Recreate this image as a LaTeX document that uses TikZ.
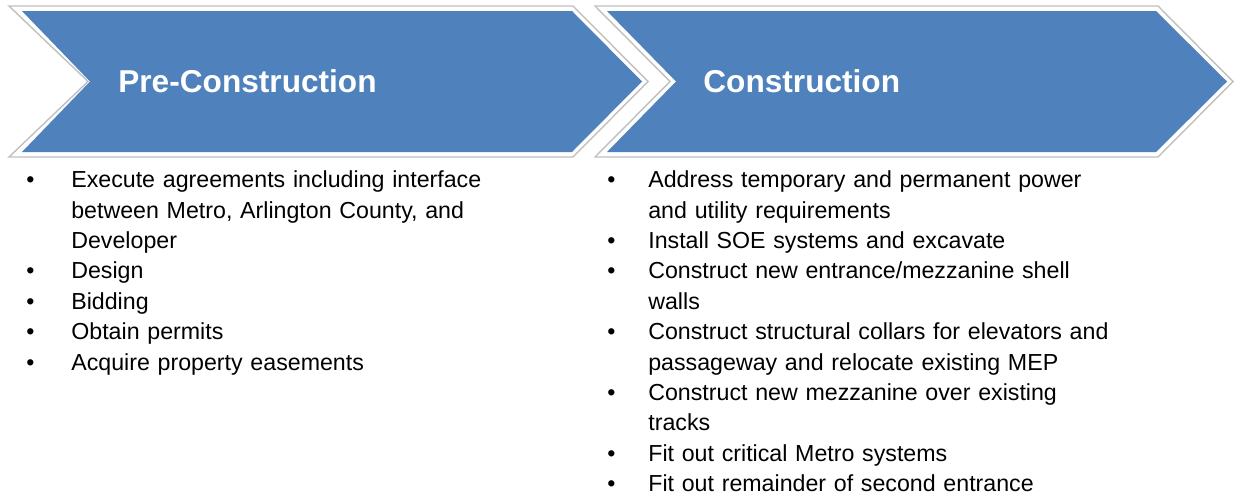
\documentclass[tikz,border=0pt]{standalone}
\usepackage{fontspec}
\setmainfont{Liberation Sans}
\definecolor{chevblue}{RGB}{79,129,189}
\definecolor{chevrim}{RGB}{192,192,192}
\newlength{\bulind}
\newcommand{\bitem}{\par\noindent\hangindent=\bulind\hangafter=1\makebox[\bulind][l]{\textbullet}}

\begin{document}
\begin{tikzpicture}[x=0.02cm,y=-0.02cm]
  \useasboundingbox (0,0) rectangle (1243,497);

  \coordinate (PreHead) at (118,92);
  \coordinate (ConHead) at (703,92);
  \coordinate (PreList) at (26,157);
  \coordinate (ConList) at (607,157);

  \tikzstyle{rim}=[draw=chevrim,fill=white,line width=0.8pt];
  \tikzstyle{body}=[fill=chevblue];
  \tikzstyle{head}=[text=white,inner sep=0pt,anchor=base west,
                    font=\fontsize{18pt}{21pt}\selectfont\bfseries];
  \tikzstyle{list}=[inner sep=0pt,anchor=north west,text width=11cm,
                    align=left,font=\fontsize{13.2pt}{17.3pt}\selectfont];

  % chevrons
  \path[rim] (9,6) -- (573,6) -- (648,81.5) -- (573,157) -- (9,157)
             -- (88,81.5) -- cycle;
  \path[body] (22,11) -- (572,11) -- (642,81.5) -- (572,152) -- (22,152)
             -- (90,81.5) -- cycle;
  \path[rim] (595,6) -- (1158,6) -- (1233,81.5) -- (1158,157) -- (595,157)
             -- (670,81.5) -- cycle;
  \path[body] (607,11) -- (1156,11) -- (1227,81.5) -- (1156,152)
             -- (607,152) -- (676,81.5) -- cycle;

  \node[head] (PreTitle) at (PreHead) {Pre-Construction};
  \node[head] (ConTitle) at (ConHead) {Construction};

  \node[list] (PreItems) at (PreList) {\setlength{\bulind}{0.9cm}%
    \bitem Execute agreements including interface\newline
           between Metro, Arlington County, and\newline Developer
    \bitem Design
    \bitem Bidding
    \bitem Obtain permits
    \bitem Acquire property easements};

  \node[list] (ConItems) at (ConList) {\setlength{\bulind}{0.82cm}%
    \bitem Address temporary and permanent power\newline
           and utility requirements
    \bitem Install SOE systems and excavate
    \bitem Construct new entrance/mezzanine shell\newline walls
    \bitem Construct structural collars for elevators and\newline
           passageway and relocate existing MEP
    \bitem Construct new mezzanine over existing\newline tracks
    \bitem Fit out critical Metro systems
    \bitem Fit out remainder of second entrance};
\end{tikzpicture}
\end{document}
